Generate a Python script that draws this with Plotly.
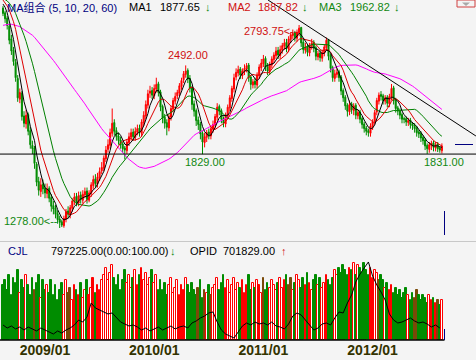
import plotly.graph_objects as go

# ---------------- data (weekly) ----------------
prior_closes = [2580, 2620, 2560, 2600, 2650, 2700, 2640, 2590, 2620, 2680,
                2720, 2660, 2610, 2570, 2630, 2690, 2740, 2700, 2650, 2600,
                2640, 2700, 2760, 2720, 2680, 2630, 2590, 2640, 2700, 2750,
                2690, 2650, 2700, 2760, 2800, 2760, 2720, 2780, 2850, 2900,
                2950, 2990, 3040, 3010, 2970, 3020, 3060, 3030, 2990, 2960,
                3000, 3050, 3020, 2980, 3010, 2990, 2960, 3000, 2970, 2940]

opens = [2920, 2885, 2845, 2785, 2690, 2605, 2515, 2395, 2240, 2285,
         2115, 2055, 2125, 2005, 1895, 1875, 1755, 1625, 1550, 1605,
         1575, 1535, 1575, 1505, 1445, 1425, 1385, 1345, 1325, 1295,
         1345, 1405, 1375, 1425, 1475, 1515, 1465, 1525, 1485, 1525,
         1555, 1485, 1535, 1595, 1645, 1605, 1655, 1705, 1725, 1795,
         1865, 1895, 1985, 2065, 2005, 1965, 1935, 1905, 1875, 1855,
         1915, 1955, 1995, 1955, 1995, 2025, 1985, 2065, 2115, 2195,
         2285, 2305, 2265, 2315, 2355, 2295, 2185, 2105, 2065, 2025,
         2105, 2165, 2225, 2265, 2285, 2335, 2385, 2425, 2455, 2395,
         2325, 2205, 2155, 2085, 2055, 1985, 1915, 1955, 1995, 1965,
         2015, 2045, 2105, 2185, 2155, 2095, 2055, 2115, 2175, 2245,
         2315, 2405, 2435, 2465, 2415, 2445, 2465, 2495, 2405, 2345,
         2375, 2345, 2415, 2475, 2505, 2545, 2485, 2445, 2495, 2535,
         2565, 2605, 2565, 2605, 2635, 2665, 2615, 2685, 2715, 2735,
         2695, 2735, 2775, 2665, 2605, 2635, 2585, 2635, 2665, 2625,
         2555, 2585, 2545, 2585, 2625, 2685, 2565, 2475, 2395, 2425,
         2445, 2405, 2305, 2255, 2195, 2145, 2205, 2155, 2195, 2115,
         2145, 2095, 2055, 2025, 2005, 1985, 2035, 2075, 2145, 2225,
         2275, 2265, 2225, 2255, 2205, 2255, 2325, 2235, 2175, 2155,
         2125, 2095, 2095, 2065, 2085, 2055, 2045, 2025, 1995, 1985,
         1955, 1935, 1895, 1865, 1895, 1915, 1875, 1905, 1875, 1855]

highs = [2935, 2900, 2860, 2800, 2720, 2630, 2540, 2420, 2320, 2300,
         2150, 2160, 2140, 2030, 1930, 1890, 1770, 1660, 1650, 1640,
         1610, 1610, 1590, 1530, 1480, 1450, 1410, 1370, 1340, 1370,
         1420, 1440, 1450, 1500, 1540, 1540, 1550, 1550, 1560, 1580,
         1580, 1560, 1620, 1670, 1680, 1690, 1730, 1770, 1820, 1890,
         1940, 2020, 2170, 2090, 2030, 1990, 1960, 1920, 1890, 1940,
         1990, 2020, 2020, 2030, 2050, 2050, 2090, 2150, 2230, 2310,
         2340, 2330, 2350, 2400, 2370, 2310, 2200, 2130, 2090, 2130,
         2190, 2250, 2290, 2310, 2360, 2400, 2450, 2492, 2470, 2420,
         2340, 2230, 2170, 2110, 2070, 2000, 1990, 2010, 2020, 2040,
         2080, 2130, 2210, 2200, 2170, 2110, 2140, 2200, 2270, 2340,
         2430, 2470, 2490, 2480, 2470, 2500, 2510, 2510, 2420, 2390,
         2400, 2440, 2500, 2540, 2570, 2560, 2510, 2520, 2560, 2590,
         2630, 2630, 2640, 2660, 2690, 2690, 2710, 2740, 2760, 2750,
         2760, 2793.75, 2780, 2690, 2660, 2650, 2660, 2690, 2680, 2640,
         2600, 2610, 2610, 2650, 2700, 2690, 2580, 2490, 2460, 2470,
         2460, 2420, 2320, 2270, 2210, 2230, 2220, 2210, 2210, 2160,
         2160, 2110, 2070, 2040, 2020, 2060, 2090, 2160, 2250, 2290,
         2300, 2280, 2270, 2270, 2280, 2353, 2340, 2250, 2190, 2170,
         2140, 2110, 2110, 2100, 2100, 2070, 2060, 2040, 2010, 2000,
         1970, 1950, 1910, 1920, 1930, 1930, 1920, 1920, 1890, 1910]

lows = [2860, 2810, 2760, 2650, 2570, 2490, 2370, 2220, 2210, 2080,
        2030, 2020, 1970, 1870, 1830, 1720, 1590, 1520, 1510, 1530,
        1500, 1500, 1470, 1400, 1380, 1350, 1310, 1278, 1285, 1280,
        1320, 1350, 1350, 1400, 1450, 1440, 1440, 1460, 1460, 1500,
        1460, 1470, 1510, 1570, 1580, 1580, 1630, 1680, 1700, 1770,
        1840, 1870, 1960, 1970, 1930, 1900, 1870, 1840, 1790, 1830,
        1890, 1930, 1930, 1930, 1970, 1960, 1960, 2040, 2090, 2170,
        2250, 2240, 2240, 2290, 2260, 2150, 2060, 2020, 1970, 2000,
        2080, 2140, 2200, 2240, 2260, 2310, 2360, 2400, 2360, 2290,
        2160, 2110, 2040, 2010, 1940, 1829, 1880, 1920, 1940, 1940,
        1990, 2020, 2080, 2120, 2060, 2030, 2030, 2090, 2150, 2220,
        2290, 2380, 2410, 2390, 2390, 2420, 2440, 2370, 2310, 2320,
        2320, 2320, 2390, 2450, 2480, 2450, 2420, 2420, 2470, 2510,
        2540, 2540, 2540, 2580, 2610, 2590, 2590, 2660, 2690, 2670,
        2670, 2710, 2630, 2580, 2580, 2560, 2560, 2610, 2590, 2530,
        2530, 2520, 2520, 2560, 2600, 2530, 2440, 2370, 2370, 2400,
        2370, 2270, 2220, 2160, 2110, 2120, 2130, 2120, 2090, 2090,
        2060, 2020, 1990, 1970, 1960, 1960, 2010, 2050, 2120, 2200,
        2230, 2200, 2200, 2180, 2180, 2230, 2200, 2140, 2120, 2090,
        2060, 2060, 2040, 2040, 2020, 2010, 1990, 1960, 1950, 1920,
        1900, 1860, 1831, 1840, 1860, 1850, 1850, 1845, 1840, 1835]

closes = [2880, 2840, 2790, 2680, 2600, 2520, 2400, 2250, 2290, 2110,
          2060, 2120, 2000, 1900, 1870, 1760, 1620, 1560, 1600, 1570,
          1540, 1570, 1500, 1440, 1420, 1380, 1340, 1320, 1300, 1350,
          1400, 1380, 1430, 1480, 1510, 1470, 1520, 1490, 1530, 1550,
          1490, 1540, 1600, 1640, 1610, 1660, 1700, 1730, 1800, 1860,
          1900, 1990, 2060, 2000, 1960, 1930, 1900, 1870, 1860, 1920,
          1960, 1990, 1960, 2000, 2020, 1990, 2070, 2120, 2200, 2280,
          2300, 2270, 2320, 2350, 2290, 2180, 2100, 2060, 2030, 2110,
          2170, 2230, 2260, 2290, 2340, 2380, 2430, 2450, 2390, 2320,
          2200, 2150, 2080, 2050, 1980, 1920, 1960, 1990, 1970, 2020,
          2050, 2110, 2180, 2150, 2090, 2060, 2120, 2180, 2250, 2320,
          2400, 2440, 2460, 2420, 2450, 2470, 2490, 2400, 2350, 2370,
          2350, 2420, 2480, 2510, 2540, 2480, 2450, 2500, 2540, 2570,
          2600, 2570, 2610, 2640, 2660, 2620, 2690, 2720, 2730, 2700,
          2740, 2770, 2660, 2610, 2630, 2590, 2640, 2660, 2620, 2560,
          2580, 2550, 2590, 2630, 2680, 2560, 2470, 2400, 2430, 2440,
          2400, 2300, 2250, 2190, 2150, 2200, 2160, 2190, 2120, 2140,
          2090, 2050, 2020, 2000, 1990, 2040, 2070, 2140, 2230, 2270,
          2260, 2230, 2250, 2210, 2260, 2320, 2230, 2170, 2150, 2120,
          2090, 2090, 2070, 2080, 2050, 2040, 2020, 1990, 1980, 1950,
          1930, 1890, 1870, 1900, 1910, 1880, 1900, 1870, 1860, 1890]

# weekly volume (thousand)
volume_k = [1100, 1200, 1000, 1300, 900, 1250, 1150, 1400, 950, 1200,
            1050, 1300, 1100, 900, 1250, 1000, 1150, 1300, 850, 1200,
            1000, 1100, 950, 1200,
            900, 1100, 800, 1000, 1150, 900, 1200, 950, 1050, 800,
            1100, 1000, 900, 1150, 850, 1000, 1200, 900, 1050, 1250,
            950, 1100, 1000, 1200,
            1300, 1450, 1200, 1350, 1500, 1250, 1100, 1300, 1000, 1200,
            1400, 1150, 1300, 1050, 1250, 1400, 1100, 1300, 1450, 1200,
            1350, 1100, 1250, 1400, 1150, 1300, 1000, 1200,
            1000, 1150, 900, 1100, 1250, 950, 1050, 1200, 900, 1100,
            1000, 1250, 1100, 950, 1150, 1000, 900, 1050, 1200, 850,
            1000, 950, 1100, 900, 1050,
            1100, 1250, 1000, 1150, 1300, 1050, 1200, 950, 1100, 1250,
            1000, 1150, 1050, 1200, 950, 1100, 1300, 1000, 1150, 1050,
            1200, 1100, 950, 1250, 1000, 1150, 1050, 1200, 1100, 1000,
            1150, 1250, 1050, 1200, 1300, 1100, 1250, 1000, 1150, 1300,
            1200, 1050, 1250, 1100, 1350, 1150, 1000, 1200, 1300, 1100,
            1250, 1050, 1150, 1300, 1200, 1100, 1250, 1400, 1300, 1450,
            1350, 1500, 1400, 1300, 1450,
            1400, 1550, 1300, 1500, 1450, 1350, 1550, 1400, 1300, 1450,
            1250, 1400, 1350, 1200, 1300,
            1200, 1050, 1150, 1000, 1100, 950, 1050, 900, 1000, 850,
            950, 1050, 900, 800, 950, 850, 1000, 900, 800, 900,
            850, 750, 900, 800, 850, 750, 800, 700, 797.225]

# weeks whose volume bar is drawn brown / solid red in the reference
brown_weeks = [15, 31, 32, 93, 96, 99, 124, 136, 137, 179, 196, 197, 207]
solid_red_weeks = [41, 43, 85, 86, 122, 165, 184]

# OPID line, every second week (thousand)
opid_k = [878, 702, 819, 644, 761, 585, 761, 644, 527, 702,
          585, 468, 351, 527, 410, 585, 702, 878, 1170, 1053,
          1346, 2165, 1872, 1755, 1638, 1521, 1580, 1287, 1053, 936,
          819, 878, 761, 585, 702, 527, 644, 761, 585, 702,
          819, 644, 761, 819, 702, 995, 1112, 1287, 1404, 1580,
          1638, 1053, 585, 351, 234, 117, 468, 819, 995, 878,
          1053, 936, 995, 878, 1053, 819, 761, 644, 936, 1404,
          1580, 1463, 1170, 878, 585, 702, 936, 995, 878, 1287,
          1638, 1580, 2165, 2633, 3393, 3861, 4212, 4563, 3744, 3218,
          2808, 2340, 1521, 1170, 995, 1053, 1170, 1287, 1112, 995,
          1053, 936, 761, 878, 701.829]

date_ticks = [20, 72, 124, 176]
date_labels = ["2009/01", "2010/01", "2011/01", "2012/01"]
support_level = 1830
trend_pts = [(126.2, 2980.4), (225.2, 1965.0)]

# ---------------- derived ----------------
n = len(closes)
weeks = list(range(n))
allc = prior_closes + closes
off = len(prior_closes)


def ma(k):
    return [sum(allc[i + off - k + 1:i + off + 1]) / k for i in range(n)]


ma5, ma10, ma20, ma60 = ma(5), ma(10), ma(20), ma(60)

W, H = 476, 360
MB = 20
PH = H - MB
BG = "#F4F4F4"
RED = "#FF0000"
GRN = "#008C00"
BRN = "#7A4A08"


def pxx(x):
    return x / W


def pyy(y):
    return (PH - y) / PH


XR = [-1.43, 225.24]

fig = go.Figure()
fig.add_trace(go.Candlestick(
    x=weeks, open=opens, high=highs, low=lows, close=closes,
    increasing=dict(line=dict(color=RED, width=1), fillcolor=RED),
    decreasing=dict(line=dict(color=GRN, width=1), fillcolor=GRN),
    whiskerwidth=0, xaxis="x", yaxis="y", hoverinfo="skip"))

for vals, col in [(ma60, "#FF00FF"), (ma20, "#008000"), (ma10, "#DD0000"), (ma5, "#000000")]:
    fig.add_trace(go.Scatter(x=weeks, y=vals, mode="lines",
                             line=dict(color=col, width=1), xaxis="x", yaxis="y",
                             hoverinfo="skip"))

fills, edges = [], []
for i, (o, c) in enumerate(zip(opens, closes)):
    if i in brown_weeks:
        fills.append(BRN); edges.append(BRN)
    elif i in solid_red_weeks:
        fills.append(RED); edges.append(RED)
    elif c >= o:
        fills.append("#FFFFFF"); edges.append(RED)
    else:
        fills.append(GRN); edges.append(GRN)

fig.add_trace(go.Bar(
    x=weeks, y=volume_k, width=0.8,
    marker=dict(color=fills, line=dict(color=edges, width=1)),
    xaxis="x2", yaxis="y2", hoverinfo="skip"))

fig.add_trace(go.Scatter(x=weeks[::2], y=opid_k, mode="lines",
                         line=dict(color="#000000", width=1),
                         xaxis="x2", yaxis="y3", hoverinfo="skip"))

FONT = "Liberation Sans, Arial, Noto Sans CJK SC"
anns = []


def txt(x, y, s, color, size=11, bold=False):
    anns.append(dict(x=pxx(x), y=pyy(y), xref="paper", yref="paper", text=s,
                     showarrow=False, xanchor="left", yanchor="middle",
                     font=dict(family=FONT, size=size, color=color,
                               weight="bold" if bold else "normal")))


TRED = "#D01010"
TGRN = "#118811"
txt(5, 7, "MA组合 (5, 10, 20, 60)", "#000080")
txt(127, 7, "MA1", "#000000")
txt(158, 7, "1877.65", "#000000")
txt(203, 7, "↓", TGRN)
txt(226, 7, "MA2", TRED)
txt(256, 7, "1887.82", TRED)
txt(300, 7, "↓", TGRN)
txt(317, 7, "MA3", TGRN)
txt(348, 7, "1962.82", TGRN)
txt(392, 7, "↓", TGRN)

txt(6, 251, "CJL", "#000080")
txt(49, 251, "797225.00(0.00:100.00)", "#000000")
txt(168, 251, "↓", TGRN)
txt(188, 251, "OPID", "#000000")
txt(221, 251, "701829.00", "#000000")
txt(279, 251, "↑", TRED)

txt(166, 55, "2492.00", TRED)
txt(242, 31, "2793.75<--", TRED)
txt(183, 162, "1829.00", TGRN)
txt(2, 221, "1278.00<--", TGRN)
txt(422, 162, "1831.00", TGRN)

shapes = [
    dict(type="line", xref="paper", yref="y", x0=0, x1=1,
         y0=support_level, y1=support_level, line=dict(color="#000000", width=1)),
    dict(type="line", xref="x", yref="y", x0=trend_pts[0][0], y0=trend_pts[0][1],
         x1=trend_pts[1][0], y1=trend_pts[1][1], line=dict(color="#000000", width=1)),
    dict(type="line", xref="paper", yref="paper", x0=0, x1=1,
         y0=pyy(241.5), y1=pyy(241.5), line=dict(color="#C8C8C8", width=1)),
    dict(type="line", xref="paper", yref="paper", x0=0, x1=pxx(444.5),
         y0=pyy(340), y1=pyy(340), line=dict(color="#000000", width=1.5)),
    dict(type="line", xref="paper", yref="paper", x0=pxx(455), x1=pxx(473),
         y0=pyy(144.5), y1=pyy(144.5), line=dict(color="#000080", width=1)),
    dict(type="line", xref="paper", yref="paper", x0=pxx(444.5), x1=pxx(444.5),
         y0=pyy(211), y1=pyy(235), line=dict(color="#000080", width=1)),
    dict(type="line", xref="paper", yref="paper", x0=pxx(444.5), x1=pxx(444.5),
         y0=pyy(329), y1=pyy(340), line=dict(color="#000080", width=1)),
    dict(type="rect", xref="paper", yref="paper", x0=pxx(457), x1=pxx(475),
         y0=pyy(7), y1=pyy(0), line=dict(color="#D04040", width=1), fillcolor=BG),
    dict(type="path", xref="paper", yref="paper",
         path="M %f %f L %f %f L %f %f Z" % (pxx(462), pyy(2.5), pxx(470), pyy(2.5), pxx(466), pyy(6)),
         line=dict(width=0), fillcolor="#A8A8A8"),
]

fig.update_layout(
    width=W, height=H, margin=dict(l=0, r=0, t=0, b=MB),
    paper_bgcolor=BG, plot_bgcolor=BG, showlegend=False, hovermode=False,
    bargap=0,
    xaxis=dict(domain=[0, 1], range=XR, showgrid=False, zeroline=False,
               showticklabels=False, rangeslider=dict(visible=False), anchor="y"),
    yaxis=dict(domain=[1 - 241 / PH, 1], range=[1180.9, 2980.4], showgrid=False,
               zeroline=False, showticklabels=False),
    xaxis2=dict(domain=[0, 1], range=XR, showgrid=False, zeroline=False, anchor="y2",
                tickmode="array", tickvals=date_ticks, ticktext=date_labels, ticks="",
                tickfont=dict(family=FONT, size=14, color="#333300", weight="bold")),
    yaxis2=dict(domain=[0, 82 / PH], range=[0, 1640], showgrid=False,
                zeroline=False, showticklabels=False),
    yaxis3=dict(overlaying="y2", range=[0, 701.829 / 12 * 82], showgrid=False,
                zeroline=False, showticklabels=False),
    annotations=anns, shapes=shapes,
)

fig.write_html("out.html", config={"displayModeBar": False},
               post_script="document.body.style.margin='0';document.body.style.padding='0';"
                           "document.body.style.background='%s';"
                           "document.body.style.overflow='hidden';" % BG)
